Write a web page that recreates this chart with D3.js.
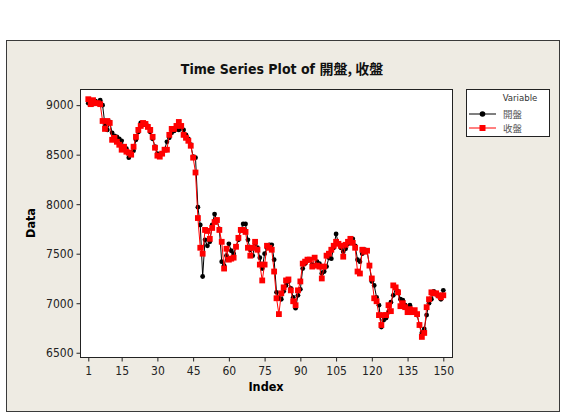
<!DOCTYPE html>
<html>
<head>
<meta charset="utf-8">
<script src="https://cdn.jsdelivr.net/npm/d3@7"></script>
<style>
  body { margin: 0; background: #fff; }
  svg text { font-family: "DejaVu Sans Condensed", "DejaVu Sans", sans-serif; }
  .cjk { font-family: "Noto Sans CJK TC", "Noto Sans CJK SC", sans-serif; }
</style>
</head>
<body>
<svg id="chart" width="566" height="418"></svg>
<script>
// ----- data -----
const seriesNames = ["開盤", "收盤"];
const openVals = [
  9020, 9050, 9010, 9040, 9030, 9050, 9000, 8800, 8750, 8830,
  8720, 8690, 8680, 8660, 8640, 8580, 8560, 8470, 8500, 8540,
  8650, 8730, 8820, 8800, 8810, 8790, 8730, 8660, 8580, 8510,
  8500, 8510, 8550, 8630, 8670, 8720, 8740, 8760, 8750, 8780,
  8750, 8700, 8660, 8600, 8480, 8470, 7970, 7790, 7270, 7640,
  7580, 7620, 7790, 7900, 7840, 7750, 7420, 7380, 7480, 7600,
  7530, 7500, 7570, 7640, 7740, 7800, 7800, 7640, 7540, 7480,
  7600, 7560, 7460, 7350, 7500, 7560, 7590, 7590, 7440, 7110,
  7050, 7040, 7120, 7180, 7220, 7150, 7060, 6950, 7080, 7140,
  7350, 7400, 7430, 7440, 7390, 7380, 7420, 7400, 7300, 7320,
  7370, 7460, 7450, 7560, 7700, 7600, 7560, 7520, 7550, 7600,
  7640, 7650, 7580, 7440, 7420, 7500, 7540, 7530, 7380, 7220,
  7180, 7060, 6980, 6760, 6830, 6850, 6910, 7010, 7080, 7150,
  7120, 7040, 7030, 6980, 6950, 6980, 6930, 6910, 6880, 6780,
  6700, 6740, 6880, 7000, 7040, 7120, 7090, 7070, 7040, 7130
];
const closeVals = [
  9060, 9010, 9050, 9020, 9020, 9010, 8840, 8760, 8840, 8820,
  8650, 8670, 8630, 8600, 8550, 8580, 8530, 8520, 8500, 8580,
  8680, 8750, 8790, 8820, 8810, 8780, 8750, 8680, 8570, 8490,
  8480, 8510, 8550, 8550, 8700, 8760, 8760, 8790, 8830, 8790,
  8700, 8670, 8640, 8590, 8470, 8320, 7860, 7560, 7500, 7740,
  7730, 7650, 7760, 7820, 7840, 7740, 7620, 7350, 7550, 7440,
  7450, 7460, 7570, 7660, 7740, 7740, 7720, 7560, 7480, 7560,
  7620, 7540, 7390, 7230, 7390, 7580, 7560, 7540, 7320, 7050,
  6890, 7100, 7160, 7230, 7240, 7130, 7020, 6980, 7130, 7220,
  7400, 7420, 7440, 7440, 7370, 7460, 7380, 7370, 7250, 7370,
  7480, 7500, 7540, 7580, 7620, 7600, 7580, 7470, 7590, 7620,
  7650, 7610, 7560, 7320, 7300, 7540, 7520, 7530, 7380, 7250,
  7050, 7020, 6880, 6780, 6880, 6880, 6980, 6920, 7180, 7160,
  7110, 6970, 7000, 6960, 6910, 6940, 6910, 6930, 6890, 6780,
  6660, 6700, 6960, 7040, 7110, 7100, 7100, 7080, 7060, 7080
];
const xTicks = [1, 15, 30, 45, 60, 75, 90, 105, 120, 135, 150];
const yTicks = [6500, 7000, 7500, 8000, 8500, 9000];

const svg = d3.select("#chart");
const plot = {left: 80, top: 89, right: 452, bottom: 357};

// outer Minitab frame
svg.append("rect")
  .attr("x", 6.5).attr("y", 40.5).attr("width", 553).attr("height", 371)
  .attr("fill", "#eeebe3").attr("stroke", "#3a3a3a").attr("stroke-width", 1);

// title
const title = svg.append("text")
  .attr("x", 282).attr("y", 74).attr("text-anchor", "middle")
  .attr("font-size", 14).attr("font-weight", "bold").attr("fill", "#111");
title.append("tspan").text("Time Series Plot of ");
title.append("tspan").attr("class", "cjk").text("開盤, 收盤");

// plot background
svg.append("rect")
  .attr("x", plot.left + 0.5).attr("y", plot.top + 0.5)
  .attr("width", plot.right - plot.left).attr("height", plot.bottom - plot.top)
  .attr("fill", "#fff").attr("stroke", "#222");

// scales
const idx = d3.range(1, openVals.length + 1);
const x = d3.scaleLinear().domain([-2.48, 153.65]).range([plot.left, plot.right]);
const y = d3.scaleLinear().domain([6457, 9163]).range([plot.bottom, plot.top]);

// axes
const leftAxis = d3.axisLeft(y).tickValues(yTicks).tickFormat(d3.format("d")).tickSize(4).tickSizeOuter(0);
svg.append("g")
  .attr("transform", `translate(${plot.left + 0.5},0)`)
  .call(leftAxis)
  .call(g => g.select(".domain").remove())
  .call(g => g.selectAll("text").attr("font-size", 12).attr("fill", "#222"))
  .call(g => g.selectAll("line").attr("stroke", "#222"));

const bottomAxis = d3.axisBottom(x).tickValues(xTicks).tickFormat(d3.format("d")).tickSize(4).tickSizeOuter(0);
svg.append("g")
  .attr("transform", `translate(0,${plot.bottom + 0.5})`)
  .call(bottomAxis)
  .call(g => g.select(".domain").remove())
  .call(g => g.selectAll("text").attr("font-size", 12).attr("fill", "#222").attr("dy", "0.9em"))
  .call(g => g.selectAll("line").attr("stroke", "#222"));

// axis titles
svg.append("text")
  .attr("x", (plot.left + plot.right) / 2).attr("y", 391)
  .attr("text-anchor", "middle").attr("font-size", 12.5).attr("font-weight", "bold")
  .text("Index");
svg.append("text")
  .attr("transform", `translate(35,${(plot.top + plot.bottom) / 2}) rotate(-90)`)
  .attr("text-anchor", "middle").attr("font-size", 12.5).attr("font-weight", "bold")
  .text("Data");

// series
const series = [
  {name: seriesNames[0], vals: openVals, color: "#000", shape: "circle"},
  {name: seriesNames[1], vals: closeVals, color: "#f00", shape: "square"}
];
const line = d3.line().x((d, i) => x(idx[i])).y(d => y(d));

series.forEach(s => {
  const g = svg.append("g");
  g.append("path").datum(s.vals)
    .attr("d", line).attr("fill", "none")
    .attr("stroke", s.color).attr("stroke-width", 1);
  if (s.shape === "circle") {
    g.selectAll("circle").data(s.vals).join("circle")
      .attr("cx", (d, i) => x(idx[i])).attr("cy", d => y(d))
      .attr("r", 2.4).attr("fill", s.color);
  } else {
    g.selectAll("rect").data(s.vals).join("rect")
      .attr("x", (d, i) => x(idx[i]) - 2.9).attr("y", d => y(d) - 2.9)
      .attr("width", 5.8).attr("height", 5.8).attr("fill", s.color);
  }
});

// legend
const lg = svg.append("g");
lg.append("rect").attr("x", 466.5).attr("y", 89.5).attr("width", 83).attr("height", 47)
  .attr("fill", "#fff").attr("stroke", "#222");
lg.append("text").attr("x", 520).attr("y", 101).attr("text-anchor", "middle")
  .attr("font-size", 9.5).attr("fill", "#333").text("Variable");
series.forEach((s, i) => {
  const ly = 114 + i * 14;
  lg.append("line").attr("x1", 469).attr("x2", 496).attr("y1", ly).attr("y2", ly)
    .attr("stroke", s.color);
  if (s.shape === "circle") {
    lg.append("circle").attr("cx", 482.5).attr("cy", ly).attr("r", 2.8).attr("fill", s.color);
  } else {
    lg.append("rect").attr("x", 479.5).attr("y", ly - 3).attr("width", 6).attr("height", 6).attr("fill", s.color);
  }
  lg.append("text").attr("class", "cjk").attr("x", 503).attr("y", ly + 3.5)
    .attr("font-size", 9.5).attr("fill", "#555").text(s.name);
});
</script>
</body>
</html>
